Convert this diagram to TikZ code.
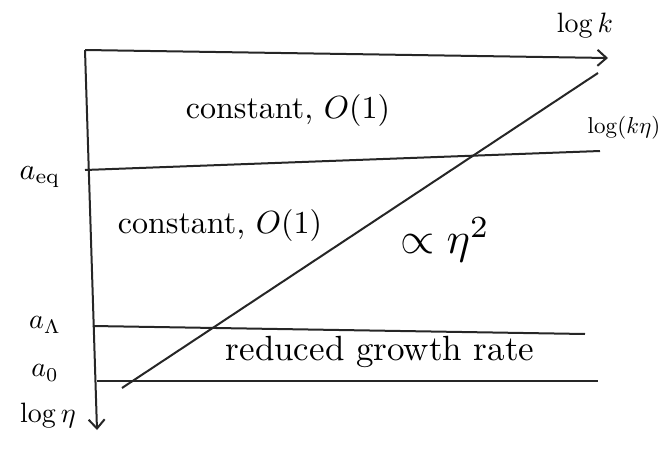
\documentclass[tikz,border=0pt]{standalone}
\usepackage{amsmath, amssymb}
\usepackage{graphicx}
\usepackage{tikz}
\usetikzlibrary{arrows.meta, positioning}
\newcommand{\etiq}[2][2.8]{\scalebox{#1}{#2}}

\begin{document}
\begin{tikzpicture}[
					% Picture Styling
					x=1pt, y=-1pt,
					>={Straight Barb[length=9pt, width=16pt, line width=2pt]},
					axis/.style={->, line width=2pt, draw=black!85},
					epoch/.style={line width=2pt, draw=black!85},
					growth/.style={line width=2pt, draw=black!85},
					tag/.style={inner sep=1pt},
					region/.style={inner sep=1pt}
				]
				\useasboundingbox (0,0) rectangle (665,450);
				% Ejes
				\coordinate (origen) at (85,50);
				\coordinate (k_fin) at (608,58);
				\coordinate (eta_fin) at (97,430);
				\draw[axis] (origen) -- (k_fin);
				\draw[axis] (origen) -- (eta_fin);
				% Epocas
				\coordinate (eq_ini) at (85,170);
				\coordinate (eq_fin) at (600,151);
				\coordinate (lam_ini) at (93,326);
				\coordinate (lam_fin) at (585,334);
				\coordinate (cero_ini) at (97,381);
				\coordinate (cero_fin) at (598,381);
				\draw[epoch] (eq_ini) -- (eq_fin);
				\draw[epoch] (lam_ini) -- (lam_fin);
				\draw[epoch] (cero_ini) -- (cero_fin);
				% Horizonte
				\coordinate (horiz_ini) at (122,388);
				\coordinate (horiz_fin) at (598,73);
				\draw[growth] (horiz_ini) -- (horiz_fin);
				% Etiquetas de ejes
				\node[tag] (log_k) at (585,25) {\etiq{$\log k$}};
				\node[tag] (log_keta) at (624,128) {\etiq[2.3]{$\log(k\eta)$}};
				\node[tag] (log_eta) at (48,415) {\etiq{$\log\eta$}};
				\node[tag] (a_eq) at (40,177) {\etiq[3]{$a_{\mathrm{eq}}$}};
				\node[tag] (a_lam) at (45,325) {\etiq{$a_\Lambda$}};
				\node[tag] (a_cero) at (45,373) {\etiq{$a_0$}};
				% Regiones
				\node[region] (arriba) at (288,110) {\etiq[3.2]{constant, $O(1)$}};
				\node[region] (medio) at (220,225) {\etiq[3.2]{constant, $O(1)$}};
				\node[region] (crece) at (445,240) {\etiq[4.4]{$\propto\eta^2$}};
				\node[region] (lento) at (380,352) {\etiq[3.5]{reduced growth rate}};
			\end{tikzpicture}
\end{document}
